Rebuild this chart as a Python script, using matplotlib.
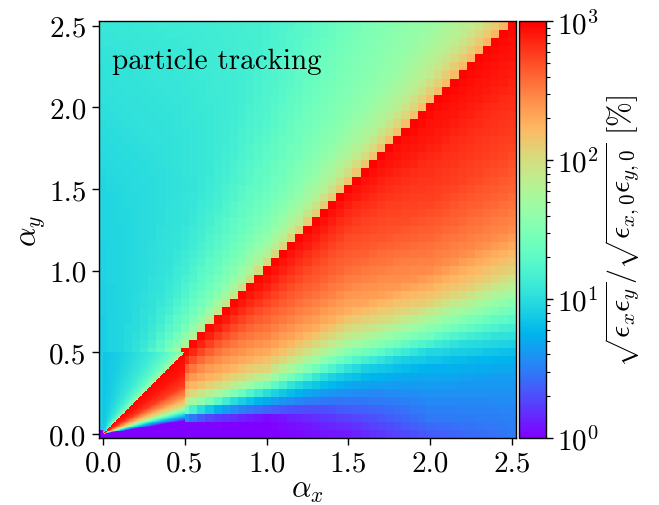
import numpy as np
import matplotlib
matplotlib.use("Agg")
import matplotlib.pyplot as plt
from matplotlib.colors import LogNorm

plt.rcParams['font.family'] = 'cmr10'
plt.rcParams['mathtext.fontset'] = 'cm'
plt.rcParams['axes.unicode_minus'] = False
plt.rcParams['axes.formatter.use_mathtext'] = True
plt.rcParams['font.size'] = 20

# ---- values (growth in %) ----
# below the diagonal: columns at alpha_x, profile along t = alpha_y / alpha_x
low_cols = [0.5, 1.0, 1.5, 2.0, 2.5]
low_t = [0, 0.05, 0.1, 0.15, 0.2, 0.25, 0.3, 0.35, 0.4, 0.5, 0.6, 0.7, 0.8, 0.9, 1.0]
low_vals = [
    [1.0, 1.0, 1.05, 1.5, 4.0, 10, 25, 45, 70, 140, 200, 300, 450, 700, 900],
    [1.0, 1.0, 1.1, 2.5, 5.0, 10, 27, 60, 110, 200, 300, 400, 550, 750, 950],
    [1.3, 1.6, 2.3, 3.2, 5.0, 8, 20, 45, 80, 190, 290, 420, 520, 700, 950],
    [2.3, 3.0, 3.5, 4.3, 5.5, 9, 25, 55, 120, 280, 400, 550, 650, 800, 950],
    [3.0, 3.3, 3.8, 4.5, 6.5, 12, 25, 55, 120, 280, 420, 550, 650, 800, 950],
]

# above the diagonal: rows at alpha_y, profile along s = alpha_x / alpha_y
up_rows = [0.5, 1.5, 2.5]
up_s = [0, 0.2, 0.4, 0.5, 0.6, 0.7, 0.8, 0.9, 0.95, 1.0]
up_vals = [
    [8, 9, 11, 13, 17, 22, 30, 50, 90, 150],
    [9, 10, 12, 15, 20, 26, 38, 65, 110, 200],
    [12, 13, 15, 19, 26, 35, 45, 75, 120, 220],
]

# fine scan near the origin (alpha_x, alpha_y < 0.5)
fine_t = [0, 0.16, 0.18, 0.2, 0.25, 0.3, 0.35, 0.45, 0.6, 0.8, 1.0]
fine_low = [1.0, 1.0, 2, 4, 12, 40, 100, 250, 600, 850, 950]
fine_s = [0, 0.2, 0.4, 0.6, 0.8, 0.9, 1.0]
fine_up = [7, 8, 10, 13, 20, 30, 50]


def field(xc, yc, fine=False):
    X, Y = np.meshgrid(xc, yc)
    Z = np.ones_like(X)
    for i in range(X.shape[0]):
        for j in range(X.shape[1]):
            x, y = X[i, j], Y[i, j]
            if x == 0 and y == 0:
                Z[i, j] = 1.0
            elif y <= x:
                t = y / x
                if fine:
                    Z[i, j] = 10 ** np.interp(t, fine_t, np.log10(fine_low))
                else:
                    p = [np.interp(t, low_t, np.log10(v)) for v in low_vals]
                    Z[i, j] = 10 ** np.interp(x, low_cols, p)
            else:
                s = x / y
                if fine:
                    Z[i, j] = 10 ** np.interp(s, fine_s, np.log10(fine_up))
                else:
                    p = [np.interp(s, up_s, np.log10(v)) for v in up_vals]
                    Z[i, j] = 10 ** np.interp(y, up_rows, p)
    return Z


step = 0.05
alpha = np.arange(51) * step
Z = field(alpha, alpha)

fine_edges = np.linspace(0, 0.5, 101)
fine_c = 0.5 * (fine_edges[1:] + fine_edges[:-1])
Zf = field(fine_c, fine_c, fine=True)

fig = plt.figure(figsize=(6.59, 5.06), dpi=100)
ax = fig.add_axes([0.1505, 0.1324, 0.6322, 0.8233])
cax = fig.add_axes([0.7868, 0.1324, 0.041, 0.8233])

norm = LogNorm(vmin=1, vmax=1000)
mesh = ax.pcolormesh(alpha, alpha, Z, cmap='rainbow', norm=norm, shading='nearest')
ax.pcolormesh(fine_edges, fine_edges, Zf, cmap='rainbow', norm=norm, shading='flat')

ax.set_xlim(-0.025, 2.525)
ax.set_ylim(-0.025, 2.525)
ax.set_xticks([0, 0.5, 1.0, 1.5, 2.0, 2.5])
ax.set_yticks([0, 0.5, 1.0, 1.5, 2.0, 2.5])
ax.set_xticklabels(['0.0', '0.5', '1.0', '1.5', '2.0', '2.5'])
ax.set_yticklabels(['0.0', '0.5', '1.0', '1.5', '2.0', '2.5'])
ax.tick_params(direction='out', length=5, width=1, labelsize=21, pad=4)
for sp in ax.spines.values():
    sp.set_linewidth(1.0)
ax.set_xlabel(r'$\alpha_x$', fontsize=22, labelpad=0)
ax.set_ylabel(r'$\alpha_y$', fontsize=22, labelpad=2)
ax.text(0.03, 0.937, 'particle tracking', transform=ax.transAxes,
        ha='left', va='top', fontsize=21)

cb = fig.colorbar(mesh, cax=cax)
cb.outline.set_linewidth(1.0)
cax.tick_params(which='major', length=5, width=1, labelsize=21, pad=3)
cax.tick_params(which='minor', length=3, width=0.8)
cb.set_label(r'$\sqrt{\epsilon_x\epsilon_y}/\sqrt{\epsilon_{x,0}\epsilon_{y,0}}$ [%]',
             fontsize=21.5, labelpad=4)

fig.savefig('out.png', dpi=100)
